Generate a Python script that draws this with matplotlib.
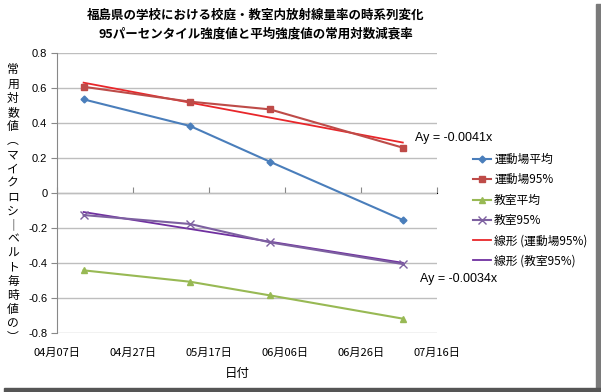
import matplotlib
matplotlib.use("Agg")
import matplotlib.pyplot as plt
import matplotlib.dates as mdates
from matplotlib.patches import Rectangle
import numpy as np
import datetime as dt

plt.rcParams['font.family'] = ['Noto Sans CJK JP', 'DejaVu Sans']

# data
dates = [dt.date(2011, 4, 14), dt.date(2011, 5, 12), dt.date(2011, 6, 2), dt.date(2011, 7, 7)]
ground_mean = [0.535, 0.383, 0.179, -0.154]
ground_95 = [0.607, 0.522, 0.478, 0.259]
room_mean = [-0.442, -0.507, -0.585, -0.718]
room_95 = [-0.126, -0.177, -0.282, -0.406]
ylabel_chars = list("常用対数値︵マイクロシ｜ベルト毎時値の︶")

title = "福島県の学校における校庭・教室内放射線量率の時系列変化\n95パーセンタイル強度値と平均強度値の常用対数減衰率"

W, H = 601, 392
fig = plt.figure(figsize=(W / 100, H / 100), dpi=100)
ax = fig.add_axes([57 / W, 1 - 333 / H, (437 - 57) / W, (333 - 53) / H])

xd = mdates.date2num(dates)
xmin = mdates.date2num(dt.date(2011, 4, 7))
xmax = mdates.date2num(dt.date(2011, 7, 16))

blue, red, green, purple = '#4A7EBB', '#BE4B48', '#98B954', '#7D60A0'

ax.plot(xd, ground_mean, color=blue, lw=1.5, marker='D', ms=3.5, label='運動場平均', zorder=4)
ax.plot(xd, ground_95, color=red, lw=1.5, marker='s', ms=5, label='運動場95%', zorder=4)
ax.plot(xd, room_mean, color=green, lw=1.5, marker='^', ms=5, label='教室平均', zorder=4)
ax.plot(xd, room_95, color=purple, lw=1.5, marker='x', ms=5.5, mew=1, label='教室95%', zorder=4)

# linear trendlines
for ys, c, lab in [(ground_95, '#E8262A', '線形 (運動場95%)'), (room_95, '#7030A0', '線形 (教室95%)')]:
    k, b = np.polyfit(xd, ys, 1)
    ax.plot(xd[[0, -1]], k * xd[[0, -1]] + b, color=c, lw=1.3, label=lab, zorder=3)

ax.set_xlim(xmin, xmax)
ax.set_ylim(-0.8, 0.8)
ax.set_yticks(np.arange(-0.8, 0.81, 0.2))
ax.set_yticklabels(['-0.8', '-0.6', '-0.4', '-0.2', '0', '0.2', '0.4', '0.6', '0.8'],
                   family='Liberation Sans', fontsize=8)
ax.grid(axis='y', color='#BEBEBE', lw=1)
ax.set_axisbelow(True)

ticks = [xmin + 20 * i for i in range(6)]
ax.set_xticks(ticks)
ax.xaxis.set_major_formatter(mdates.DateFormatter('%m月%d日'))
ax.tick_params(axis='x', length=0, labelsize=8, pad=11)
ax.tick_params(axis='y', length=4, color='#888888', labelsize=8, pad=3)

for s in ['top', 'right', 'bottom']:
    ax.spines[s].set_visible(False)
ax.spines['left'].set_color('#888888')

# horizontal axis line crossing at y=0 with tick marks
sec = ax.secondary_xaxis(0.5)
sec.set_xticks(ticks)
sec.set_xticklabels([])
sec.tick_params(length=4, color='#888888', direction='out')
sec.spines['bottom'].set_color('#888888')

fig.text(415 / W, 1 - 141 / H, 'Ay = -0.0041x', fontsize=9, family='Liberation Sans')
fig.text(420 / W, 1 - 282 / H, 'Ay = -0.0034x', fontsize=9, family='Liberation Sans')

fig.text(256 / W, 1 - 25 / H, title, ha='center', va='center', fontsize=9,
         fontweight='bold', linespacing=1.55)
fig.text(237 / W, 1 - 373 / H, '日付', ha='center', va='center', fontsize=9)

for i, ch in enumerate(ylabel_chars):
    fig.text(13 / W, 1 - (70 + i * 14.1) / H, ch, ha='center', va='center', fontsize=8.5)

ax.legend(loc='upper left', bbox_to_anchor=(473 / W, 1 - 153 / H), bbox_transform=fig.transFigure,
          frameon=False, fontsize=8.5, handlelength=1.5, handletextpad=0.3,
          labelspacing=0.62, borderaxespad=0, borderpad=0)

# frame shadow
fig.patches.append(Rectangle((596 / W, 0), 5 / W, 1 - 4 / H, transform=fig.transFigure,
                             color='#7A7A7A', zorder=0))
fig.patches.append(Rectangle((4 / W, 0), 597 / W, 4 / H, transform=fig.transFigure,
                             color='#555555', zorder=0))

fig.savefig('out.png', dpi=100)
